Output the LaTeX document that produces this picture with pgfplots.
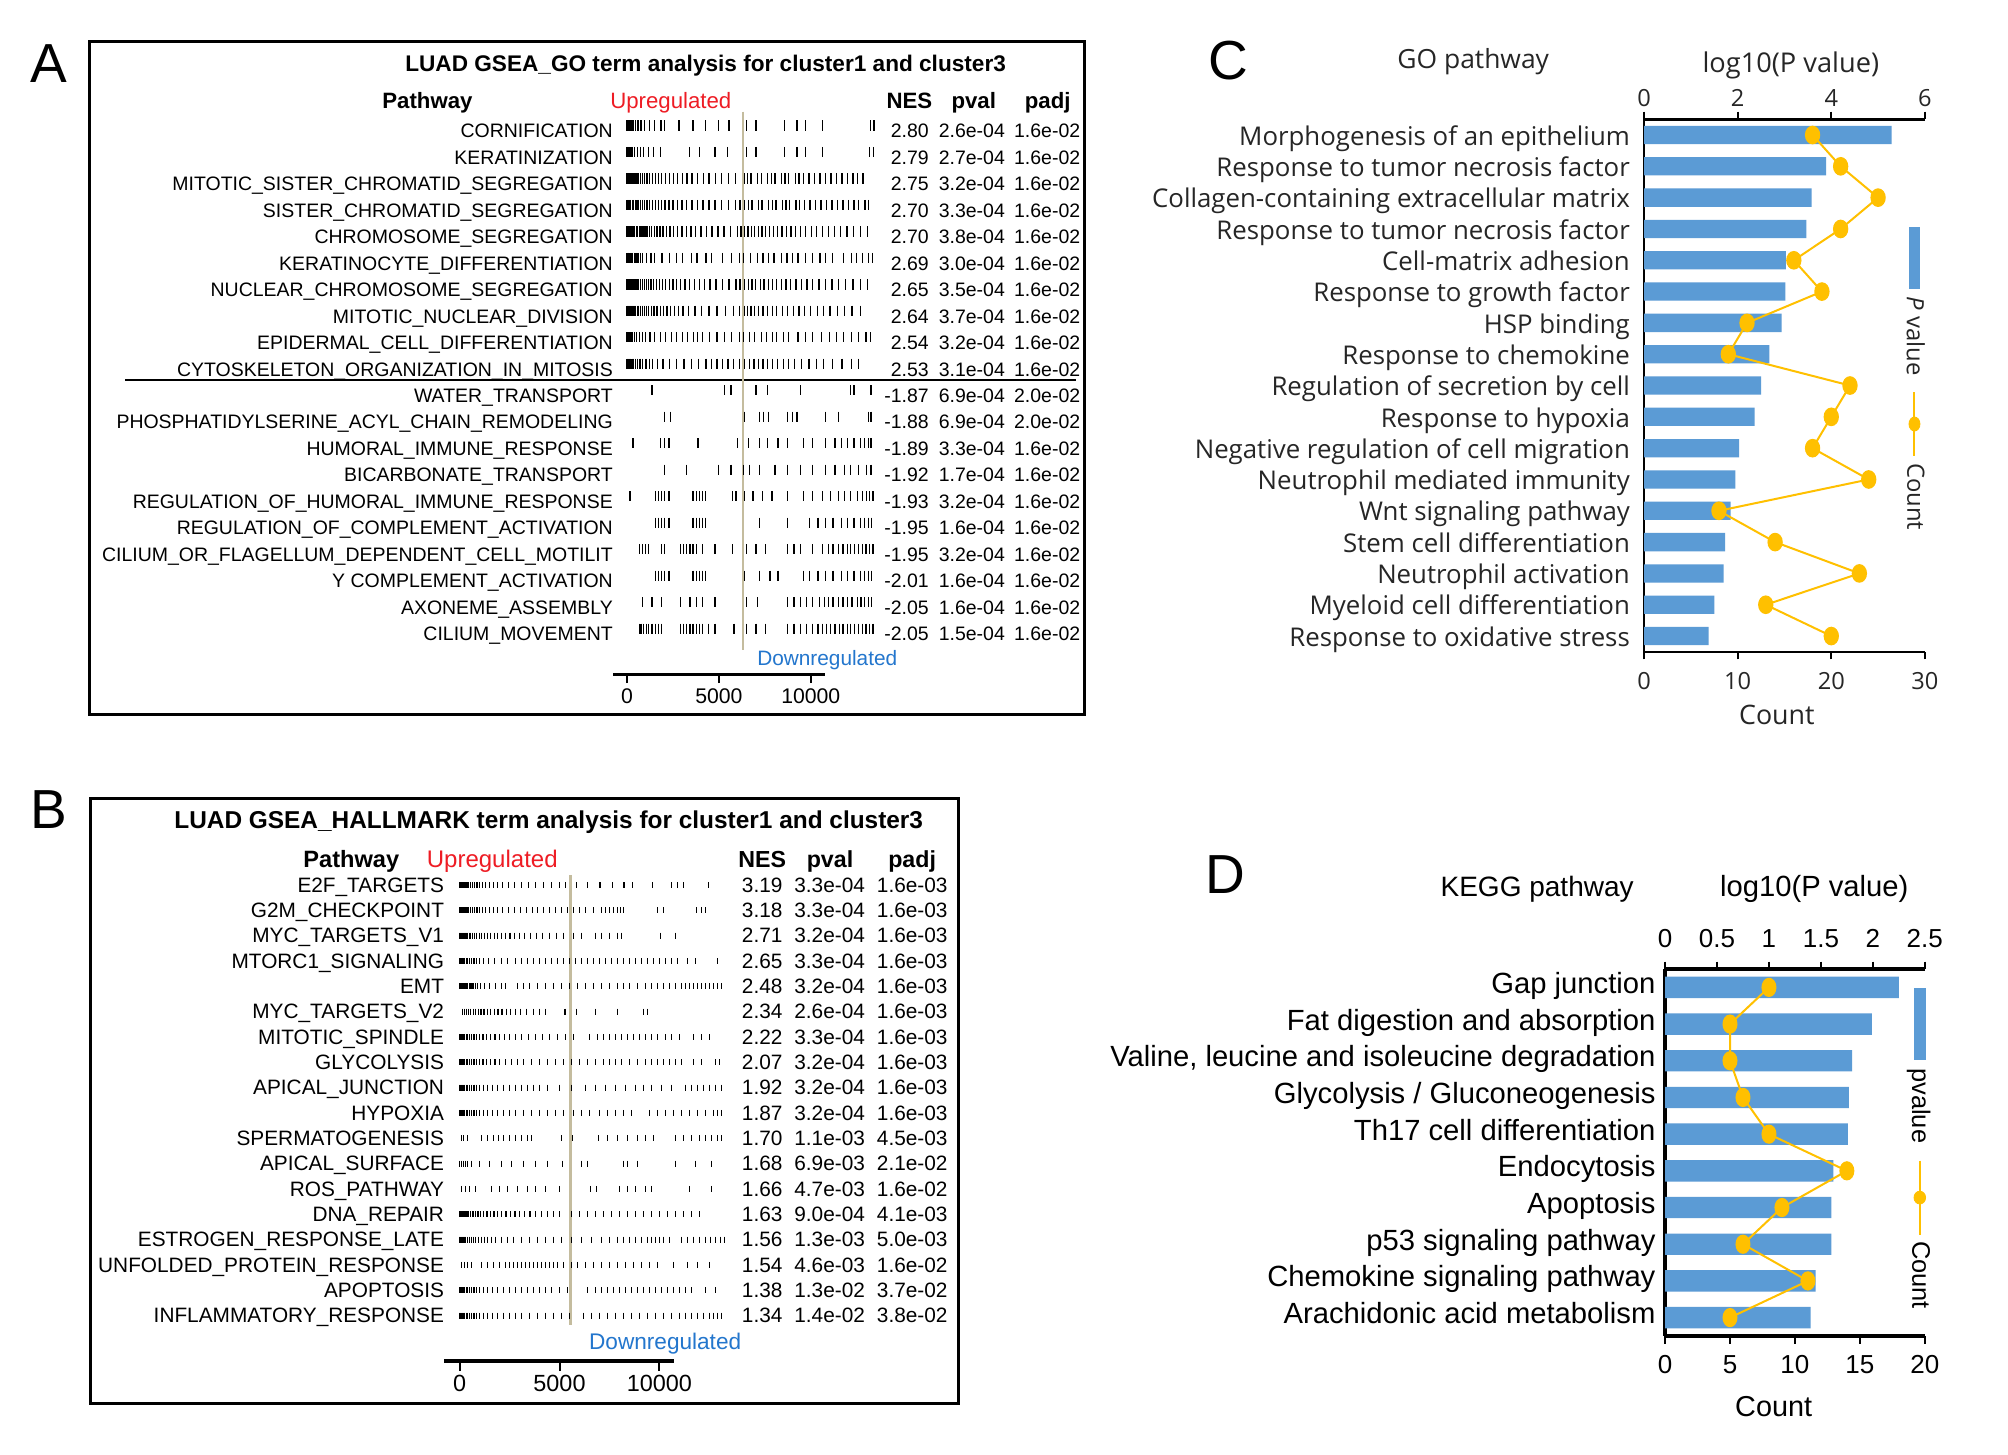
\documentclass[border=0pt]{standalone}
\usepackage{fontspec}
\setmainfont{Liberation Sans}
\newfontfamily\cfont{Open Sans}
\usepackage{pgfplots}
\pgfplotsset{compat=1.18}

\definecolor{barblue}{RGB}{91,155,213}
\definecolor{gold}{RGB}{255,192,0}
\definecolor{upred}{RGB}{238,28,36}
\definecolor{downblue}{RGB}{35,118,205}
\definecolor{tanline}{RGB}{196,188,158}
\definecolor{ctext}{RGB}{38,38,38}

\newcommand\fs[1]{\fontsize{#1}{#1}\selectfont}

% barcode row: style, y position, list of gene ranks
\newcommand\bcrow[3]{%
  \def\bclist{}%
  \foreach \v in {#3}{\xdef\bclist{\bclist(\v,#2)}}%
  \edef\bctmp{\noexpand\addplot[#1] coordinates {\bclist};}\bctmp}

\pgfplotsset{
  bcA/.style={only marks, mark=|, mark size=2.56pt, black, mark options={line width=0.65pt, black}},
  bcB/.style={only marks, mark=|, mark size=1.5pt, black, mark options={line width=0.6pt, black}},
}

\newcommand\arow[5]{%
 \node[anchor=base east] at (478.8,{107.5+(#1-1)*20.68}) {#2};
 \node[anchor=base east] at (725.5,{107.5+(#1-1)*20.68}) {#3};
 \node[anchor=base east] at (785,{107.5+(#1-1)*20.68}) {#4};
 \node[anchor=base east] at (843.8,{107.5+(#1-1)*20.68}) {#5};}
\newcommand\brow[5]{%
 \node[anchor=base east] at (347,{696.8+(#1-1)*19.78}) {#2};
 \node[anchor=base east] at (611.3,{696.8+(#1-1)*19.78}) {#3};
 \node[anchor=base east] at (675.7,{696.8+(#1-1)*19.78}) {#4};
 \node[anchor=base east] at (740.2,{696.8+(#1-1)*19.78}) {#5};}

\begin{document}
\begin{tikzpicture}
\fill[white] (0pt,0pt) rectangle (1003.52pt,-727.04pt);
\useasboundingbox (0pt,0pt) rectangle (1003.52pt,-727.04pt);

\begin{scope}[x=0.64pt,y=-0.64pt]
%================ PANEL A texts =================
\node[font=\fs{27.5},inner sep=0pt] at (38.5,49.5) {A};
\draw[line width=1.5pt] (69.5,32.5) rectangle (847,558);
\node[font=\bfseries\fs{11.3},anchor=base,inner sep=0pt] at (551,56) {LUAD GSEA\_GO term analysis for cluster1 and cluster3};
\begin{scope}[inner sep=0pt]
\node[font=\bfseries\fs{11.1},anchor=base] at (333.8,84.6) {Pathway};
\node[font=\fs{11.1},text=upred,anchor=base west] at (476.3,84.6) {Upregulated};
\node[font=\bfseries\fs{11.1},anchor=base west] at (692,84.6) {NES};
\node[font=\bfseries\fs{11.1},anchor=base west] at (742.7,84.6) {pval};
\node[font=\bfseries\fs{11.1},anchor=base west] at (800,84.6) {padj};
\node[font=\fs{10.4},text=downblue,anchor=base west] at (591,519.3) {Downregulated};
\end{scope}
\begin{scope}[inner sep=0pt,font=\fs{9.73}]
\arow{1}{CORNIFICATION}{2.80}{2.6e-04}{1.6e-02}
\arow{2}{KERATINIZATION}{2.79}{2.7e-04}{1.6e-02}
\arow{3}{MITOTIC\_SISTER\_CHROMATID\_SEGREGATION}{2.75}{3.2e-04}{1.6e-02}
\arow{4}{SISTER\_CHROMATID\_SEGREGATION}{2.70}{3.3e-04}{1.6e-02}
\arow{5}{CHROMOSOME\_SEGREGATION}{2.70}{3.8e-04}{1.6e-02}
\arow{6}{KERATINOCYTE\_DIFFERENTIATION}{2.69}{3.0e-04}{1.6e-02}
\arow{7}{NUCLEAR\_CHROMOSOME\_SEGREGATION}{2.65}{3.5e-04}{1.6e-02}
\arow{8}{MITOTIC\_NUCLEAR\_DIVISION}{2.64}{3.7e-04}{1.6e-02}
\arow{9}{EPIDERMAL\_CELL\_DIFFERENTIATION}{2.54}{3.2e-04}{1.6e-02}
\arow{10}{CYTOSKELETON\_ORGANIZATION\_IN\_MITOSIS}{2.53}{3.1e-04}{1.6e-02}
\arow{11}{WATER\_TRANSPORT}{-1.87}{6.9e-04}{2.0e-02}
\arow{12}{PHOSPHATIDYLSERINE\_ACYL\_CHAIN\_REMODELING}{-1.88}{6.9e-04}{2.0e-02}
\arow{13}{HUMORAL\_IMMUNE\_RESPONSE}{-1.89}{3.3e-04}{1.6e-02}
\arow{14}{BICARBONATE\_TRANSPORT}{-1.92}{1.7e-04}{1.6e-02}
\arow{15}{REGULATION\_OF\_HUMORAL\_IMMUNE\_RESPONSE}{-1.93}{3.2e-04}{1.6e-02}
\arow{16}{REGULATION\_OF\_COMPLEMENT\_ACTIVATION}{-1.95}{1.6e-04}{1.6e-02}
\arow{17}{CILIUM\_OR\_FLAGELLUM\_DEPENDENT\_CELL\_MOTILIT}{-1.95}{3.2e-04}{1.6e-02}
\arow{18}{Y COMPLEMENT\_ACTIVATION}{-2.01}{1.6e-04}{1.6e-02}
\arow{19}{AXONEME\_ASSEMBLY}{-2.05}{1.6e-04}{1.6e-02}
\arow{20}{CILIUM\_MOVEMENT}{-2.05}{1.5e-04}{1.6e-02}
\end{scope}
\draw[line width=1.3pt] (97.8,296.7) -- (840,296.7);

%================ PANEL B texts =================
\node[font=\fs{27.5},inner sep=0pt] at (38,632.5) {B};
\draw[line width=1.5pt] (71,623.4) rectangle (748.5,1095.8);
\node[font=\bfseries\fs{12.2},anchor=base,inner sep=0pt] at (428.5,646.8) {LUAD GSEA\_HALLMARK term analysis for cluster1 and cluster3};
\begin{scope}[inner sep=0pt]
\node[font=\bfseries\fs{11.8},anchor=base west] at (236.6,677.5) {Pathway};
\node[font=\fs{12},text=upred,anchor=base west] at (333,677.5) {Upregulated};
\node[font=\bfseries\fs{11.6},anchor=base west] at (576.3,677.5) {NES};
\node[font=\bfseries\fs{11.6},anchor=base west] at (629.7,677.5) {pval};
\node[font=\bfseries\fs{11.6},anchor=base west] at (693.3,677.5) {padj};
\node[font=\fs{11.3},text=downblue,anchor=base west] at (459.7,1053.4) {Downregulated};
\end{scope}
\begin{scope}[inner sep=0pt,font=\fs{10.4}]
\brow{1}{E2F\_TARGETS}{3.19}{3.3e-04}{1.6e-03}
\brow{2}{G2M\_CHECKPOINT}{3.18}{3.3e-04}{1.6e-03}
\brow{3}{MYC\_TARGETS\_V1}{2.71}{3.2e-04}{1.6e-03}
\brow{4}{MTORC1\_SIGNALING}{2.65}{3.3e-04}{1.6e-03}
\brow{5}{EMT}{2.48}{3.2e-04}{1.6e-03}
\brow{6}{MYC\_TARGETS\_V2}{2.34}{2.6e-04}{1.6e-03}
\brow{7}{MITOTIC\_SPINDLE}{2.22}{3.3e-04}{1.6e-03}
\brow{8}{GLYCOLYSIS}{2.07}{3.2e-04}{1.6e-03}
\brow{9}{APICAL\_JUNCTION}{1.92}{3.2e-04}{1.6e-03}
\brow{10}{HYPOXIA}{1.87}{3.2e-04}{1.6e-03}
\brow{11}{SPERMATOGENESIS}{1.70}{1.1e-03}{4.5e-03}
\brow{12}{APICAL\_SURFACE}{1.68}{6.9e-03}{2.1e-02}
\brow{13}{ROS\_PATHWAY}{1.66}{4.7e-03}{1.6e-02}
\brow{14}{DNA\_REPAIR}{1.63}{9.0e-04}{4.1e-03}
\brow{15}{ESTROGEN\_RESPONSE\_LATE}{1.56}{1.3e-03}{5.0e-03}
\brow{16}{UNFOLDED\_PROTEIN\_RESPONSE}{1.54}{4.6e-03}{1.6e-02}
\brow{17}{APOPTOSIS}{1.38}{1.3e-02}{3.7e-02}
\brow{18}{INFLAMMATORY\_RESPONSE}{1.34}{1.4e-02}{3.8e-02}
\end{scope}

%================ PANEL C/D texts =================
\node[font=\fs{27.5},inner sep=0pt] at (959,47) {C};
\begin{scope}[inner sep=0pt, text=ctext]
\node[font=\cfont\fs{13.2},anchor=base] at (1150.4,53.3) {GO pathway};
\node[font=\cfont\fs{13.6},anchor=base] at (1398.4,56.8) {log10(P value)};
\node[font=\cfont\fs{13.4},anchor=base] at (1387.5,566.1) {Count};
\end{scope}
\node[font=\fs{27.5},inner sep=0pt] at (956.5,683) {D};
\begin{scope}[inner sep=0pt]
\node[font=\fs{14},anchor=base] at (1200.3,699.7) {KEGG pathway};
\node[font=\fs{14.6},anchor=base] at (1416.7,699.7) {log10(P value)};
\node[font=\fs{14.4},anchor=base] at (1385,1105.8) {Count};
\end{scope}
\end{scope}

%================ PANEL A barcodes =================
\begin{axis}[
  at={(306.43pt,-55.81pt)}, anchor=north west, scale only axis,
  width=106.11pt, height=281.47pt,
  xmin=-760, xmax=10800, ymin=-0.745, ymax=20.522,
  clip=false,
  axis x line=bottom, axis y line=none,
  axis line style={line width=1.6pt,-},
  every outer x axis line/.append style={-},
  xtick={0,5000,10000}, scaled x ticks=false, tick align=outside, major tick length=4.16pt,
  xtick style={line width=1pt,black},
  xticklabel style={font=\fs{10.6}, inner sep=0pt, yshift=-2.56pt},
  /pgf/number format/1000 sep={}, /pgf/number format/assume math mode=true,
]
\addplot[tanline, line width=1.2pt] coordinates {(6294,20.522)(6294,0.192)};
\bcrow{bcA}{20}{0,50,110,180,260,350,460,600,760,950,1200,1500,1850,2050,2830,3590,4270,4960,5540,6510,7020,8570,9250,9700,10630,13270,13440}
\bcrow{bcA}{19}{0,60,130,210,300,420,560,720,900,1150,1450,1800,3410,3930,4790,5480,6510,7020,8570,9250,9700,10630,13200,13410}
\bcrow{bcA}{18}{0,70,140,210,290,370,450,540,630,730,840,960,1090,1230,1380,1540,1710,1890,2080,2290,2510,2750,3000,3260,3540,3830,4140,4460,4800,5150,5520,5900,6380,6560,6750,7100,7300,7650,7850,8050,8400,8600,8800,9150,9350,9600,9900,10200,10500,10800,11100,11400,11700,12000,12300,12550,12850}
\bcrow{bcA}{17}{0,60,130,200,280,360,440,530,620,720,830,950,1080,1220,1370,1530,1700,1880,2070,2280,2500,2740,2990,3250,3530,3820,4130,4450,4790,5140,5510,5890,6150,6400,6600,6800,7150,7350,7700,7900,8100,8450,8650,8850,9200,9400,9650,9950,10250,10550,10850,11150,11450,11750,12050,12350,12600,12950,13150}
\bcrow{bcA}{16}{0,50,100,160,220,280,350,420,500,580,670,760,860,970,1090,1210,1340,1480,1630,1790,1960,2140,2330,2530,2750,2980,3220,3470,3740,4020,4310,4620,4940,5280,5640,6010,6200,6400,6580,6760,6950,7150,7350,7550,7760,7980,8200,8430,8670,8920,9180,9450,9730,10020,10320,10630,10950,11280,11620,11970,12330,12700,13100}
\bcrow{bcA}{15}{0,40,90,150,220,300,390,490,600,720,850,1050,1300,1500,1900,2300,2700,3000,3500,3800,4300,4600,5200,5700,6100,6350,6700,7100,7400,7700,8000,8400,8700,9000,9300,9700,10100,10500,10800,11200,11800,12200,12500,12800,13150,13350}
\bcrow{bcA}{14}{0,60,120,180,240,310,380,460,540,630,720,820,930,1050,1170,1300,1440,1590,1750,1920,2100,2290,2490,2700,2920,3150,3400,3660,3930,4220,4520,4840,5180,5540,5920,6150,6400,6600,6800,7000,7250,7450,7700,7900,8150,8400,8650,8900,9200,9500,9800,10100,10450,10800,11150,11500,11900,12300,12700,13100}
\bcrow{bcA}{13}{0,50,100,150,210,270,330,400,470,550,630,720,820,930,1050,1180,1320,1470,1630,1800,1980,2170,2370,2580,2800,3050,3350,3700,4050,4450,4900,5350,5800,6100,6380,6560,6750,6950,7150,7400,7650,7900,8150,8450,8750,9050,9350,9650,10000,10350,10700,11050,11450,11850,12250,12700}
\bcrow{bcA}{12}{0,40,90,150,220,300,400,520,660,820,1000,1250,1500,1800,2100,2400,2700,3000,3300,3600,3850,4100,4500,4900,5300,5700,6100,6350,6650,6950,7300,7600,7900,8150,8500,8800,9300,9700,10100,10600,11000,11400,11800,12200,12600,13000,13250}
\bcrow{bcA}{11}{0,60,120,190,270,360,460,570,700,850,1020,1200,1400,1650,1950,2300,2700,3100,3500,3900,4300,4600,4900,5200,5500,5800,6100,6400,6650,6900,7150,7400,7650,7900,8200,8500,8800,9100,9500,9900,10300,10700,11200,11700,12200,12600}
\bcrow{bcA}{10}{1350,5300,5650,7020,7640,9430,12180,12350,13280}
\bcrow{bcA}{9}{2040,2380,6400,7190,7430,7710,8740,9010,9250,10800,11490,13140,13280}
\bcrow{bcA}{8}{320,1800,2040,2280,3860,6000,6610,7190,7640,8220,8740,9600,10110,10800,11320,11660,12000,12350,12690,12930,13140,13280}
\bcrow{bcA}{7}{2040,3240,4960,5650,6330,6680,7190,8050,8740,9430,10110,10800,11320,11830,12180,12590,13040,13280}
\bcrow{bcA}{6}{150,1530,1700,1870,2040,2280,3590,3760,3930,4100,4270,5720,5920,6400,6850,7370,7880,8740,9600,10110,10630,11080,11490,11830,12180,12530,12800,13040,13210,13380}
\bcrow{bcA}{5}{1530,1700,1870,2040,2280,3590,3760,3930,4100,4270,7190,8740,9940,10390,10800,11210,11660,12000,12350,12690,12930,13140,13310}
\bcrow{bcA}{4}{660,830,1010,1180,1870,2040,2900,3070,3240,3420,3590,3760,4100,4790,5720,6510,7020,7540,8740,9090,9430,10110,10630,10970,11210,11490,11760,12000,12180,12380,12590,12800,13000,13210,13380}
\bcrow{bcA}{3}{1530,1700,1870,2040,2280,3590,3760,3930,4100,4270,6400,7190,7780,8220,9600,9940,10390,10800,11210,11660,12000,12350,12690,12930,13140,13310}
\bcrow{bcA}{2}{830,1350,1870,2900,3420,3760,4100,4790,6510,7090,8740,9090,9430,9780,10110,10460,10730,10970,11210,11490,11760,12000,12240,12530,12740,12930,13140,13310}
\bcrow{bcA}{1}{660,760,900,1040,1180,1350,1530,1700,1870,2900,3070,3240,3420,3590,3760,3930,4100,4440,4790,5820,6510,7020,7540,8740,9090,9430,9780,10110,10390,10630,10870,11080,11320,11560,11760,12000,12180,12380,12590,12800,13000,13210,13380}
\end{axis}

%================ PANEL B barcodes =================
\begin{axis}[
  at={(222.08pt,-437.31pt)}, anchor=north west, scale only axis,
  width=115.0pt, height=242.88pt,
  xmin=-763, xmax=10756, ymin=-0.792, ymax=18.394,
  clip=false,
  axis x line=bottom, axis y line=none,
  axis line style={line width=1.6pt,-},
  every outer x axis line/.append style={-},
  xtick={0,5000,10000}, scaled x ticks=false, tick align=outside, major tick length=5pt,
  xtick style={line width=1pt,black},
  xticklabel style={font=\fs{11.7}, inner sep=0pt, yshift=-2pt},
  /pgf/number format/1000 sep={}, /pgf/number format/assume math mode=true,
]
\addplot[tanline, line width=1.2pt] coordinates {(5558,18.394)(5558,0.631)};
\bcrow{bcB}{18}{0,40,80,130,180,240,300,370,450,540,640,750,870,1000,1150,1300,1480,1680,1900,2150,2450,2750,3100,3450,3800,4200,4600,5000,5300,5850,6410,7030,7670,8230,8660,9640,10620,10900,11190,12450}
\bcrow{bcB}{17}{0,40,80,130,180,240,300,370,450,540,640,750,870,1000,1150,1300,1480,1680,1900,2150,2450,2750,3050,3350,3650,3900,4200,4500,4800,5100,5400,5700,6000,6300,6700,7100,7300,7500,7700,7900,8050,8200,9900,10200,11850,12100,12300}
\bcrow{bcB}{16}{0,40,80,120,170,220,280,340,410,480,560,650,750,860,980,1110,1250,1400,1560,1730,1910,2100,2300,2520,2750,3000,3260,3540,3840,4150,4480,4830,5200,5700,6100,6800,7100,7500,7900,8100,10050,10800}
\bcrow{bcB}{15}{0,40,90,140,200,260,330,410,500,600,720,850,1000,1200,1450,1750,2100,2400,2800,3100,3400,3700,4000,4300,4600,4900,5200,5500,5800,6100,6400,6700,7000,7300,7600,7900,8200,8500,8800,9100,9400,9700,10000,10300,10600,10900,11400,11800,12900}
\bcrow{bcB}{14}{0,30,70,110,160,210,270,330,400,480,570,670,780,900,1050,1250,1500,1800,2100,2300,2900,3200,3500,3900,4300,4700,5100,5500,5900,6300,6700,7100,7500,7900,8200,8500,8900,9300,9600,9900,10200,10500,10800,11100,11300,11500,11700,11900,12100,12300,12500,12700,12900,13100}
\bcrow{bcB}{13}{150,250,350,450,560,680,800,930,1070,1220,1380,1550,1730,1920,2120,2330,2550,2800,3050,3350,3700,4000,4300,5280,5850,6800,7900,9200,9400}
\bcrow{bcB}{12}{0,40,90,140,200,260,330,410,500,600,720,850,1000,1170,1350,1550,1770,2000,2250,2500,2800,3100,3450,3800,4150,4500,4900,5300,5700,6500,6900,7200,7500,7800,8100,8400,8700,9000,9300,9600,9900,10300,10600,11000,11700,12100,12500}
\bcrow{bcB}{11}{0,40,90,140,200,260,330,410,500,600,720,850,1000,1170,1350,1550,1770,2000,2300,2600,2900,3200,3600,4000,4400,4800,5200,5600,6000,6400,6800,7200,7500,7800,8100,8500,8900,9300,9600,9900,10200,10500,10800,11100,11700,12100,12800,13000}
\bcrow{bcB}{10}{0,40,90,140,200,260,330,410,500,600,720,850,1000,1200,1400,1650,1900,2200,2500,2800,3100,3400,3700,4000,4400,5000,5600,6300,6800,7300,7800,8300,8800,9200,9600,10100,10600,11300,11600,11900,12200,12500,12800,13100}
\bcrow{bcB}{9}{0,40,90,140,200,260,330,410,500,600,720,850,1000,1200,1400,1650,1900,2200,2500,2800,3200,3600,4000,4400,4800,5200,5700,6100,6500,7000,7400,7800,8200,8600,9500,9900,10300,10700,11100,11500,11900,12300,12700,12900,13100}
\bcrow{bcB}{8}{80,200,400,1100,1400,1700,1950,2200,2500,2800,3100,3400,3600,5100,5650,6950,7400,7900,8400,8900,9300,9700,10800,11200,11600,12000,12300,12600,12900,13100}
\bcrow{bcB}{7}{0,100,200,300,400,600,1000,1500,2100,2600,3200,3800,4400,5150,6100,6400,8200,8400,8900,10800,11800,12600}
\bcrow{bcB}{6}{100,300,500,800,1600,2000,2400,2900,3400,3800,4300,5000,6550,6850,8000,8400,8800,9300,9600,11500,12600}
\bcrow{bcB}{5}{0,50,100,160,220,290,370,460,560,670,790,920,1060,1210,1370,1540,1720,1910,2110,2320,2540,2770,3010,3260,3520,3800,4100,4400,4700,5000,5600,6000,6400,6800,7200,7600,8000,8400,8800,9200,9600,10000,10400,10800,11200,11600,12000}
\bcrow{bcB}{4}{0,40,80,130,180,240,310,390,480,580,690,810,940,1080,1230,1400,1600,1800,2100,2400,2700,3100,3500,3900,4300,4700,5100,5600,6100,6600,7100,7500,7900,8200,8500,8800,9100,9400,9600,9800,10000,10200,10500,11100,11400,11700,12000,12300,12550,12800,13050,13250}
\bcrow{bcB}{3}{100,250,400,600,1100,1400,1700,2000,2300,2500,2700,2900,3100,3300,3500,3700,3900,4100,4300,4500,4700,4900,5200,5600,5900,6300,6700,7100,7500,7900,8300,8700,9100,9500,9900,10700,11400,11900,12500}
\bcrow{bcB}{2}{0,40,90,140,200,260,330,410,500,600,720,850,1000,1200,1400,1650,1900,2200,2500,2800,3100,3400,3700,4000,4300,4600,5000,5400,6400,6800,7100,7400,7700,8000,8300,8600,8900,9200,9500,9800,10100,10400,10700,11000,11300,11600,12300,12800}
\bcrow{bcB}{1}{0,40,90,140,200,260,330,410,500,600,720,850,1000,1200,1400,1650,1900,2200,2500,2800,3100,3500,3900,4300,4700,5100,5500,6200,6600,7000,7400,7800,8200,8600,9000,9400,9800,10200,10600,11000,11300,11600,11900,12200,12500,12700,12900,13100}
\end{axis}

%================ PANEL C =================
\begin{axis}[
  at={(821.63pt,-59.65pt)}, anchor=north west, scale only axis,
  width=140.35pt, height=266.05pt,
  xmin=0, xmax=6, ymin=0.5, ymax=17.5,
  axis x line=top, axis y line=left,
  axis line style={line width=1.15pt,-},
  every outer x axis line/.append style={-}, every outer y axis line/.append style={-},
  xtick={0,2,4,6}, tick align=outside, major tick length=3.84pt,
  xtick style={line width=1pt,black},
  xticklabel style={font=\cfont\fs{11.8}, text=ctext, inner sep=0pt, yshift=2.5pt},
  ytick={1,...,17}, ytick style={draw=none},
  yticklabels={Response to oxidative stress, Myeloid cell differentiation, Neutrophil activation, Stem cell differentiation, Wnt signaling pathway, Neutrophil mediated immunity, Negative regulation of cell migration, Response to hypoxia, Regulation of secretion by cell, Response to chemokine, HSP binding, Response to growth factor, Cell-matrix adhesion, Response to tumor necrosis factor, Collagen-containing extracellular matrix, Response to tumor necrosis factor, Morphogenesis of an epithelium},
  yticklabel style={font=\cfont\fs{12.9}, text=ctext, anchor=base east, inner sep=0pt, xshift=-3.06pt, yshift=-5.1pt},
  /pgf/number format/assume math mode=true,
]
\addplot[xbar, bar width=9.15pt, bar shift=0pt, fill=barblue, draw=none] coordinates {(5.29,17)(3.89,16)(3.58,15)(3.47,14)(3.03,13)(3.02,12)(2.94,11)(2.68,10)(2.50,9)(2.36,8)(2.03,7)(1.95,6)(1.85,5)(1.73,4)(1.70,3)(1.50,2)(1.38,1)};
\end{axis}
\begin{axis}[
  at={(821.63pt,-59.65pt)}, anchor=north west, scale only axis,
  width=140.35pt, height=266.05pt,
  xmin=0, xmax=30, ymin=0.5, ymax=17.5,
  axis x line=bottom, axis y line=none,
  axis line style={line width=1.15pt,-},
  every outer x axis line/.append style={-},
  xtick={0,10,20,30}, tick align=outside, major tick length=3.84pt,
  xtick style={line width=1pt,black},
  xticklabel style={font=\cfont\fs{11.8}, text=ctext, inner sep=0pt, yshift=-6.1pt},
  /pgf/number format/assume math mode=true,
  legend style={at={(0.9665,0.7996)}, anchor=north, draw=none, fill=none,
    inner sep=0pt, outer sep=0pt, nodes={inner sep=0pt, outer sep=0pt},
    /tikz/column sep=0pt},
]
\addplot[forget plot, gold, line width=1pt, mark=*, mark size=4.16pt, mark options={xscale=0.8, fill=gold, draw=gold, solid}] coordinates {(18,17)(21,16)(25,15)(21,14)(16,13)(19,12)(11,11)(9,10)(22,9)(20,8)(18,7)(24,6)(8,5)(14,4)(23,3)(13,2)(20,1)};
\addlegendimage{legend image code/.code={%
  \fill[barblue] (-2.7pt,0pt) rectangle (2.7pt,-30.66pt);
  \node[rotate=-90, anchor=west, inner sep=0pt, font=\cfont\fs{11.9}, text=ctext] at (0pt,-34.5pt) {\textit{P} value};
  \draw[gold,line width=1pt] (0pt,-82.2pt) -- (0pt,-114.4pt);
  \fill[gold] (0pt,-98.2pt) ellipse (2.75pt and 3.5pt);
  \node[rotate=-90, anchor=west, inner sep=0pt, font=\cfont\fs{11.9}, text=ctext] at (0pt,-117.8pt) {Count};}}
\addlegendentry{}
\end{axis}

%================ PANEL D =================
\begin{axis}[
  at={(832.13pt,-484.29pt)}, anchor=north west, scale only axis,
  width=129.79pt, height=183.36pt,
  xmin=0, xmax=2.5, ymin=0.5, ymax=10.5,
  axis x line=top, axis y line=left,
  axis line style={line width=1.66pt,-},
  every outer x axis line/.append style={-}, every outer y axis line/.append style={-},
  xtick={0,0.5,1,1.5,2,2.5}, tick align=outside, major tick length=3.65pt,
  xtick style={line width=1.2pt,black},
  xticklabel style={font=\fs{13}, inner sep=0pt, yshift=6.7pt},
  ytick={1,...,10}, ytick style={draw=none},
  yticklabels={Arachidonic acid metabolism, Chemokine signaling pathway, p53 signaling pathway, Apoptosis, Endocytosis, Th17 cell differentiation, Glycolysis / Gluconeogenesis, {Valine, leucine and isoleucine degradation}, Fat digestion and absorption, Gap junction},
  yticklabel style={font=\fs{14.6}, anchor=base east, inner sep=0pt, xshift=-0.95pt, yshift=-3pt},
  /pgf/number format/assume math mode=true,
]
\addplot[xbar, bar width=10.7pt, bar shift=0pt, fill=barblue, draw=none] coordinates {(2.25,10)(1.99,9)(1.80,8)(1.77,7)(1.76,6)(1.62,5)(1.60,4)(1.60,3)(1.45,2)(1.40,1)};
\end{axis}
\begin{axis}[
  at={(832.13pt,-484.29pt)}, anchor=north west, scale only axis,
  width=129.79pt, height=183.36pt,
  xmin=0, xmax=20, ymin=0.5, ymax=10.5,
  axis x line=bottom, axis y line=none,
  axis line style={line width=1.66pt,-},
  every outer x axis line/.append style={-},
  xtick={0,5,10,15,20}, tick align=outside, major tick length=3.84pt,
  xtick style={line width=1.2pt,black},
  xticklabel style={font=\fs{13}, inner sep=0pt, yshift=-5.7pt},
  /pgf/number format/assume math mode=true,
  legend style={at={(0.9847,0.950)}, anchor=north, draw=none, fill=none,
    inner sep=0pt, outer sep=0pt, nodes={inner sep=0pt, outer sep=0pt},
    /tikz/column sep=0pt},
]
\addplot[forget plot, gold, line width=1pt, mark=*, mark size=4.3pt, mark options={xscale=0.755, fill=gold, draw=gold, solid}] coordinates {(8,10)(5,9)(5,8)(6,7)(8,6)(14,5)(9,4)(6,3)(11,2)(5,1)};
\addlegendimage{legend image code/.code={%
  \fill[barblue] (-2.9pt,0pt) rectangle (2.9pt,-35.46pt);
  \node[rotate=-90, anchor=west, inner sep=0pt, font=\fs{12.7}] at (0pt,-39.7pt) {pvalue};
  \draw[gold,line width=1.2pt] (0pt,-85.8pt) -- (0pt,-122.9pt);
  \fill[gold] (0pt,-104.3pt) ellipse (2.9pt and 3.2pt);
  \node[rotate=-90, anchor=west, inner sep=0pt, font=\fs{12.7}] at (0pt,-126.1pt) {Count};}}
\addlegendentry{}
\end{axis}
\end{tikzpicture}
\end{document}
